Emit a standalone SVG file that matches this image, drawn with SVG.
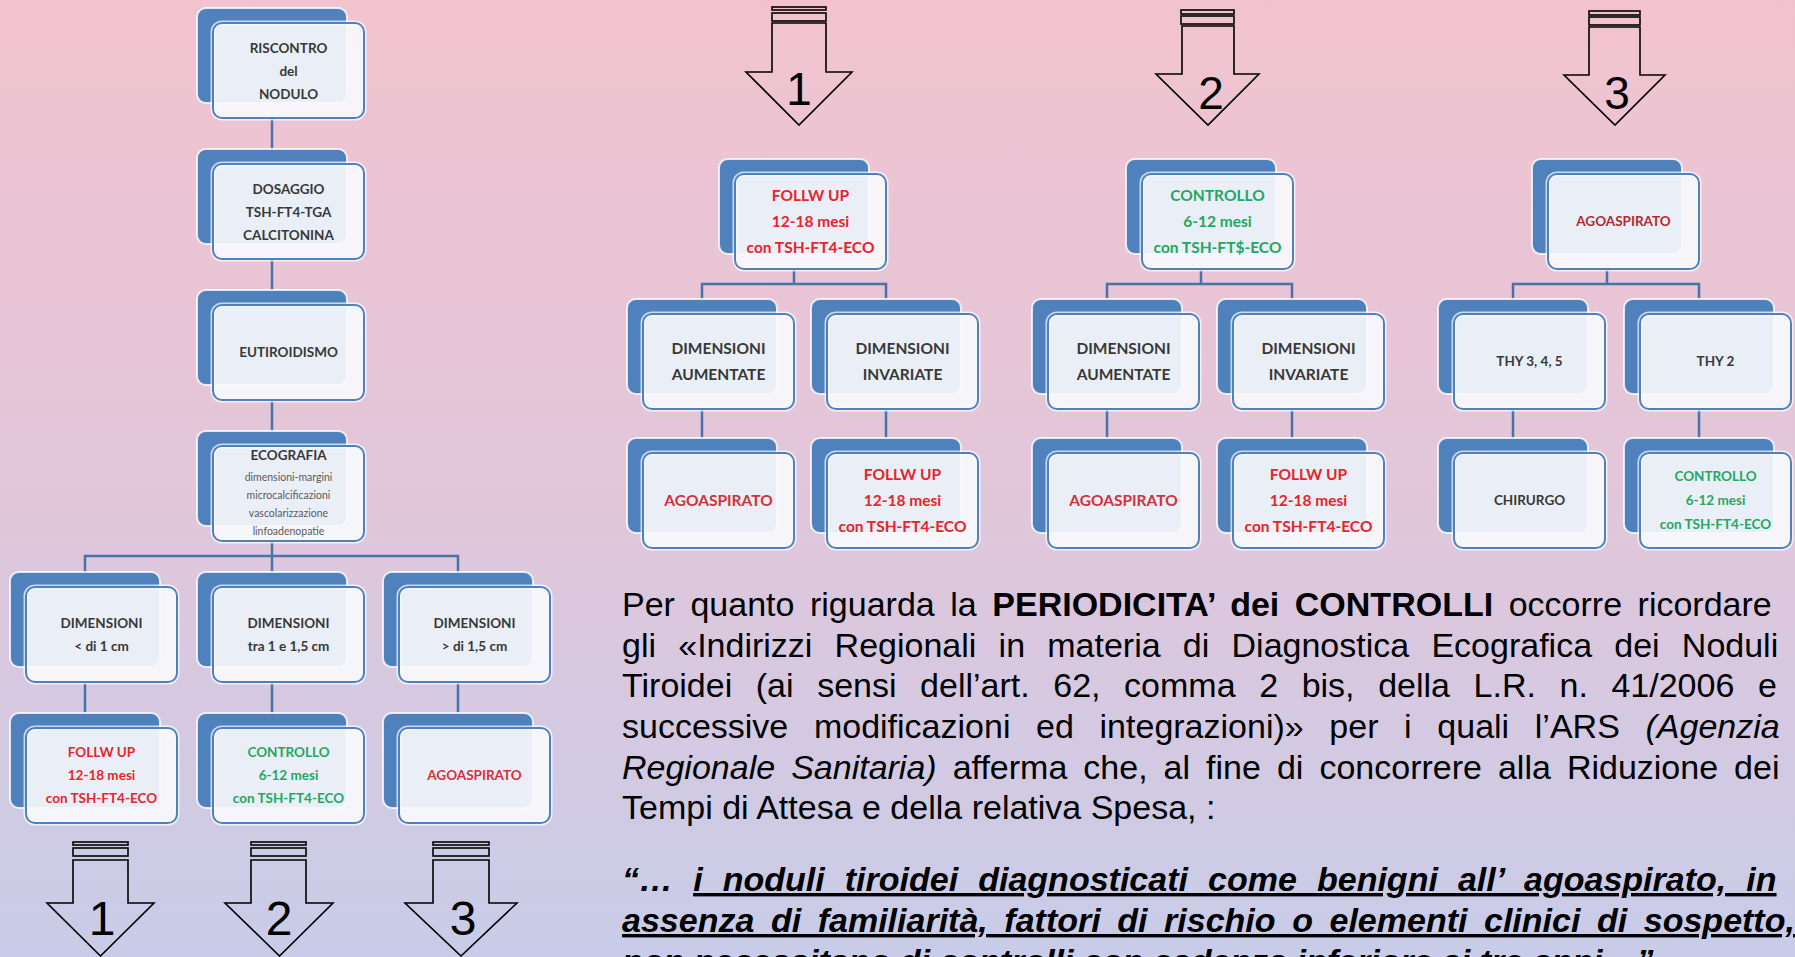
<svg xmlns="http://www.w3.org/2000/svg" xmlns:xlink="http://www.w3.org/1999/xlink" width="1795" height="957" viewBox="0 0 1795 957">
<defs>
<linearGradient id="bg" x1="0" y1="0" x2="0" y2="1">
<stop offset="0" stop-color="#f2c3cf"/>
<stop offset="0.5" stop-color="#e2c6da"/>
<stop offset="1" stop-color="#c8cce8"/>
</linearGradient>
<g id="box">
<rect x="0" y="0" width="150" height="95" rx="9" fill="#4f81bd" stroke="#ffffff" stroke-width="2" stroke-opacity="0.8"/>
<rect x="16" y="15" width="151" height="95" rx="9" fill="none" stroke="#ffffff" stroke-width="5" stroke-opacity="0.7"/>
<rect x="16" y="15" width="151" height="95" rx="9" fill="#f7f9fc" fill-opacity="0.92" stroke="#4f81bd" stroke-width="2"/>
</g>
<style>
.t{font-family:Lato,"Open Sans","Liberation Sans",sans-serif;font-weight:700;text-anchor:middle}
.b{font-size:15.5px}
.s{font-size:13.5px}
.k{fill:#383838}
.r{fill:#e8232b}
.ra{fill:#d5303a}
.rd{fill:#b8262f}
.g{fill:#1fa860}
.tiny{font-size:10.5px;font-weight:400;fill:#5a5a5a}
.con{fill:none;stroke:#4a72a8;stroke-width:2.5}
.arr{fill:none;stroke:#000;stroke-width:1.6}
.num{font-family:"Liberation Sans",Arial,sans-serif;text-anchor:middle;fill:#000}
.p{font-family:"Liberation Sans",Arial,sans-serif;font-size:34px;fill:#000}
</style>
</defs>
<rect x="0" y="0" width="1795" height="957" fill="url(#bg)"/>

<g id="connectors" class="con">
<path d="M272,118V149M272,259V290M272,400V431M272,541V556M85,572V556H458V572M85,682V713M272,556V572M272,682V713M458,682V713"/>
<path d="M794,269V284M702,299V284H886V299M702,409V438M886,409V438"/>
<path d="M1201,269V284M1107,299V284H1292V299M1107,409V438M1292,409V438"/>
<path d="M1607,269V284M1513,299V284H1699V299M1513,409V438M1699,409V438"/>
</g>

<g id="n-riscontro"><use xlink:href="#box" x="197" y="8"/>
<text class="t s k" x="288.5" y="53">RISCONTRO</text><text class="t s k" x="288.5" y="76">del</text><text class="t s k" x="288.5" y="99">NODULO</text></g>
<g id="n-dosaggio"><use xlink:href="#box" x="197" y="149"/>
<text class="t s k" x="288.5" y="194">DOSAGGIO</text><text class="t s k" x="288.5" y="217">TSH-FT4-TGA</text><text class="t s k" x="288.5" y="240">CALCITONINA</text></g>
<g id="n-eutiroidismo"><use xlink:href="#box" x="197" y="290"/>
<text class="t s k" x="288.5" y="357">EUTIROIDISMO</text></g>
<g id="n-ecografia"><use xlink:href="#box" x="197" y="431"/>
<text class="t s k" x="288.5" y="460">ECOGRAFIA</text>
<text class="t tiny" x="288.5" y="481">dimensioni-margini</text>
<text class="t tiny" x="288.5" y="499">microcalcificazioni</text>
<text class="t tiny" x="288.5" y="517">vascolarizzazione</text>
<text class="t tiny" x="288.5" y="535">linfoadenopatie</text></g>

<g id="n-dim1"><use xlink:href="#box" x="10" y="572"/>
<text class="t s k" x="101.5" y="628">DIMENSIONI</text><text class="t s k" x="101.5" y="651">&lt; di 1 cm</text></g>
<g id="n-dim2"><use xlink:href="#box" x="197" y="572"/>
<text class="t s k" x="288.5" y="628">DIMENSIONI</text><text class="t s k" x="288.5" y="651">tra 1 e 1,5 cm</text></g>
<g id="n-dim3"><use xlink:href="#box" x="383" y="572"/>
<text class="t s k" x="474.5" y="628">DIMENSIONI</text><text class="t s k" x="474.5" y="651">&gt; di 1,5 cm</text></g>

<g id="n-l-follow"><use xlink:href="#box" x="10" y="713"/>
<text class="t s r" x="101.5" y="757">FOLLW UP</text><text class="t s r" x="101.5" y="780">12-18 mesi</text><text class="t s r" x="101.5" y="803">con TSH-FT4-ECO</text></g>
<g id="n-l-controllo"><use xlink:href="#box" x="197" y="713"/>
<text class="t s g" x="288.5" y="757">CONTROLLO</text><text class="t s g" x="288.5" y="780">6-12 mesi</text><text class="t s g" x="288.5" y="803">con TSH-FT4-ECO</text></g>
<g id="n-l-ago"><use xlink:href="#box" x="383" y="713"/>
<text class="t s ra" x="474.5" y="780">AGOASPIRATO</text></g>

<g id="n-t1-top"><use xlink:href="#box" x="719" y="159"/>
<text class="t b r" x="810.5" y="201">FOLLW UP</text><text class="t b r" x="810.5" y="227">12-18 mesi</text><text class="t b r" x="810.5" y="253">con TSH-FT4-ECO</text></g>
<g id="n-t1-aum"><use xlink:href="#box" x="627" y="299"/>
<text class="t b k" x="718.5" y="354">DIMENSIONI</text><text class="t b k" x="718.5" y="380">AUMENTATE</text></g>
<g id="n-t1-inv"><use xlink:href="#box" x="811" y="299"/>
<text class="t b k" x="902.5" y="354">DIMENSIONI</text><text class="t b k" x="902.5" y="380">INVARIATE</text></g>
<g id="n-t1-ago"><use xlink:href="#box" x="627" y="438"/>
<text class="t b ra" x="718.5" y="506">AGOASPIRATO</text></g>
<g id="n-t1-follow"><use xlink:href="#box" x="811" y="438"/>
<text class="t b r" x="902.5" y="480">FOLLW UP</text><text class="t b r" x="902.5" y="506">12-18 mesi</text><text class="t b r" x="902.5" y="532">con TSH-FT4-ECO</text></g>

<g id="n-t2-top"><use xlink:href="#box" x="1126" y="159"/>
<text class="t b g" x="1217.5" y="201">CONTROLLO</text><text class="t b g" x="1217.5" y="227">6-12 mesi</text><text class="t b g" x="1217.5" y="253">con TSH-FT$-ECO</text></g>
<g id="n-t2-aum"><use xlink:href="#box" x="1032" y="299"/>
<text class="t b k" x="1123.5" y="354">DIMENSIONI</text><text class="t b k" x="1123.5" y="380">AUMENTATE</text></g>
<g id="n-t2-inv"><use xlink:href="#box" x="1217" y="299"/>
<text class="t b k" x="1308.5" y="354">DIMENSIONI</text><text class="t b k" x="1308.5" y="380">INVARIATE</text></g>
<g id="n-t2-ago"><use xlink:href="#box" x="1032" y="438"/>
<text class="t b ra" x="1123.5" y="506">AGOASPIRATO</text></g>
<g id="n-t2-follow"><use xlink:href="#box" x="1217" y="438"/>
<text class="t b r" x="1308.5" y="480">FOLLW UP</text><text class="t b r" x="1308.5" y="506">12-18 mesi</text><text class="t b r" x="1308.5" y="532">con TSH-FT4-ECO</text></g>

<g id="n-t3-top"><use xlink:href="#box" x="1532" y="159"/>
<text class="t s rd" x="1623.5" y="226">AGOASPIRATO</text></g>
<g id="n-t3-thy345"><use xlink:href="#box" x="1438" y="299"/>
<text class="t s k" x="1529.5" y="366">THY 3, 4, 5</text></g>
<g id="n-t3-thy2"><use xlink:href="#box" x="1624" y="299"/>
<text class="t s k" x="1715.5" y="366">THY 2</text></g>
<g id="n-t3-chir"><use xlink:href="#box" x="1438" y="438"/>
<text class="t s k" x="1529.5" y="505">CHIRURGO</text></g>
<g id="n-t3-controllo"><use xlink:href="#box" x="1624" y="438"/>
<text class="t s g" x="1715.5" y="481">CONTROLLO</text><text class="t s g" x="1715.5" y="505">6-12 mesi</text><text class="t s g" x="1715.5" y="529">con TSH-FT4-ECO</text></g>

<g id="arrow-top-1" class="arr">
<rect x="772" y="7" width="54" height="3"/><rect x="772" y="13" width="54" height="8"/>
<path d="M772,23H826V72H852L799,125L746,72H772Z"/>
<text class="num" x="799" y="105" font-size="46" stroke="none">1</text></g>
<g id="arrow-top-2" class="arr">
<rect x="1181" y="10" width="53" height="4"/><rect x="1181" y="16" width="53" height="8"/>
<path d="M1182,26H1234V74H1259L1208,125L1156,74H1182Z"/>
<text class="num" x="1211" y="109" font-size="46" stroke="none">2</text></g>
<g id="arrow-top-3" class="arr">
<rect x="1589" y="11" width="51" height="4"/><rect x="1589" y="17" width="51" height="8"/>
<path d="M1589,27H1640V75H1665L1615,125L1564,75H1589Z"/>
<text class="num" x="1617" y="109" font-size="46" stroke="none">3</text></g>

<g id="arrow-bot-1" class="arr">
<rect x="73" y="842" width="55" height="3"/><rect x="73" y="848" width="55" height="8"/>
<path d="M73,860H128V903H154L100.5,956L47,903H73Z"/>
<text class="num" x="102" y="935" font-size="48" stroke="none">1</text></g>
<g id="arrow-bot-2" class="arr">
<rect x="251" y="842" width="55" height="3"/><rect x="251" y="848" width="55" height="8"/>
<path d="M251,860H306V903H333L279.5,956L225,903H251Z"/>
<text class="num" x="279" y="935" font-size="48" stroke="none">2</text></g>
<g id="arrow-bot-3" class="arr">
<rect x="433" y="842" width="56" height="3"/><rect x="433" y="848" width="56" height="8"/>
<path d="M433,860H489V903H517L461,956L405,903H433Z"/>
<text class="num" x="463" y="935" font-size="48" stroke="none">3</text></g>

<g id="paragraph" class="p">
<text x="622" y="616" word-spacing="6.1">Per quanto riguarda la <tspan font-weight="700">PERIODICITA’ dei CONTROLLI</tspan> occorre ricordare</text>
<text x="622" y="657" word-spacing="12.77">gli «Indirizzi Regionali in materia di Diagnostica Ecografica dei Noduli</text>
<text x="622" y="697" word-spacing="14.13">Tiroidei (ai sensi dell’art. 62, comma 2 bis, della L.R. n. 41/2006 e</text>
<text x="622" y="738" word-spacing="16.2">successive modificazioni ed integrazioni)» per i quali l’ARS <tspan font-style="italic">(Agenzia</tspan></text>
<text x="622" y="779" word-spacing="6.57"><tspan font-style="italic">Regionale Sanitaria)</tspan> afferma che, al fine di concorrere alla Riduzione dei</text>
<text x="622" y="819">Tempi di Attesa e della relativa Spesa, :</text>
<text x="622" y="891" word-spacing="10.67" font-weight="700" font-style="italic">“… <tspan text-decoration="underline">i noduli tiroidei diagnosticati come benigni all’ agoaspirato, in</tspan></text>
<text x="622" y="932" word-spacing="7.14" font-weight="700" font-style="italic" text-decoration="underline">assenza di familiarità, fattori di rischio o elementi clinici di sospetto,</text>
<text x="622" y="973" font-weight="700" font-style="italic">non necessitano di controlli con cadenza inferiore ai tre anni…”</text>
</g>
</svg>
